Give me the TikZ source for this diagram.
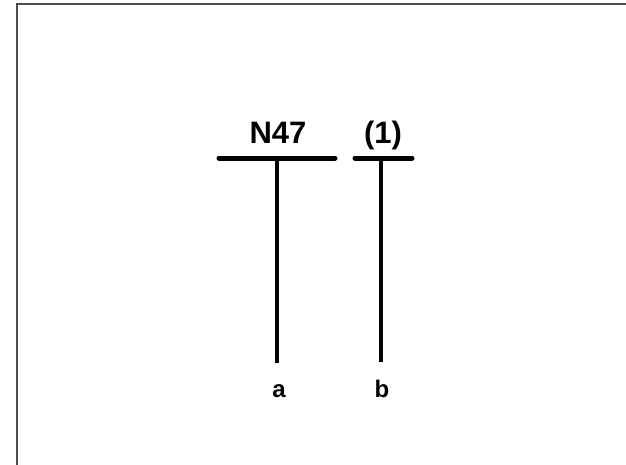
\documentclass[tikz,border=0pt]{standalone}
\usepackage{fontspec}
\setmainfont{Liberation Sans}
\begin{document}
\begin{tikzpicture}[x=1pt,y=-1pt,
  frame/.style={draw=black!70,line width=1.2pt},
  bar/.style={line width=5pt,line cap=round},
  wire/.style={line width=4pt},
  head/.style={font=\fontsize{31}{31}\selectfont\bfseries,anchor=base,inner sep=0pt},
  pin/.style={font=\fontsize{24}{24}\selectfont\bfseries,anchor=base,inner sep=0pt}]
\useasboundingbox (0,0) rectangle (626,464);
\draw[frame] (630,4) -- (17,4) -- (17,470);
% bars
\coordinate (b1l) at (219,158);
\coordinate (b1r) at (335,158);
\coordinate (b2l) at (355,158);
\coordinate (b2r) at (412,158);
\draw[bar] (b1l) -- (b1r);
\draw[bar] (b2l) -- (b2r);
% wires
\coordinate (t1) at (277,158);
\coordinate (e1) at (277,363);
\coordinate (t2) at (381,158);
\coordinate (e2) at (381,362);
\draw[wire] (t1) -- (e1);
\draw[wire] (t2) -- (e2);
% labels
\node[head] (n47) at (278,143) {N47};
\node[head] (one) at (383,143) {(1)};
\node[pin] (a) at (279,397) {a};
\node[pin] (b) at (382,397) {b};
\end{tikzpicture}
\end{document}
